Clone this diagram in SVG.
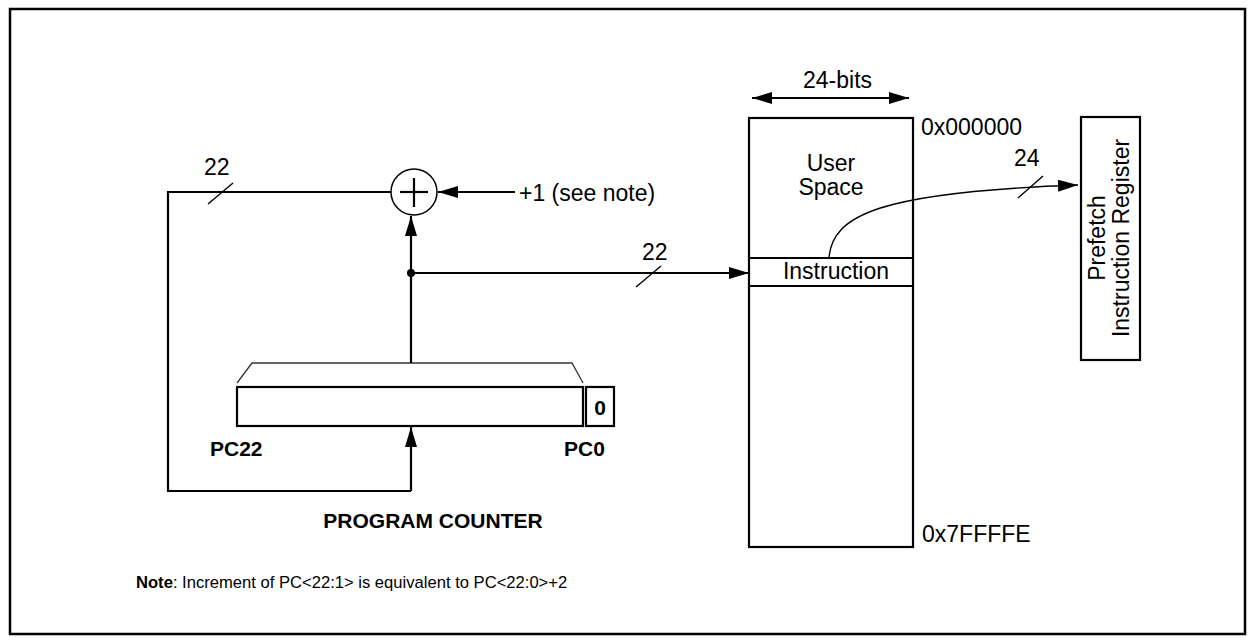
<svg xmlns="http://www.w3.org/2000/svg" width="1254" height="641" viewBox="0 0 1254 641">
<defs>
<style>
.ln{stroke:#000;stroke-width:2.2;fill:none}
.thin{stroke:#000;stroke-width:1.4;fill:none}
.box{stroke:#000;stroke-width:2.2;fill:#fff}
.t{font-family:"Liberation Sans",Arial,sans-serif;font-size:23px;fill:#000}
.b{font-family:"Liberation Sans",Arial,sans-serif;font-size:21px;font-weight:bold;fill:#000}
.n{font-family:"Liberation Sans",Arial,sans-serif;font-size:16.6px;fill:#000}
</style>
<marker id="ah" viewBox="0 0 20 12" refX="20" refY="6" markerWidth="20" markerHeight="12" markerUnits="userSpaceOnUse" orient="auto-start-reverse">
<path d="M0,0 L20,6 L0,12 Z" fill="#000"/>
</marker>
</defs>
<rect x="0" y="0" width="1254" height="641" fill="#fff"/>
<rect x="10" y="9" width="1235" height="625" fill="none" stroke="#000" stroke-width="2.5"/>

<g id="adder">
<circle cx="414" cy="192" r="23" fill="#fff" stroke="#000" stroke-width="1.5"/>
<line class="ln" x1="400" y1="192" x2="428" y2="192"/>
<line class="ln" x1="414" y1="178" x2="414" y2="207"/>
</g>

<g id="program-counter">
<polyline points="237,383 252,363 572,363 583,383" fill="none" stroke="#333" stroke-width="1.3"/>
<rect class="box" x="237" y="387" width="346" height="39"/>
<rect class="box" x="586" y="387" width="28" height="39"/>
<text class="b" x="600" y="415" text-anchor="middle">0</text>
<text class="b" x="210" y="456">PC22</text>
<text class="b" x="564" y="456">PC0</text>
<text class="b" x="433" y="528" text-anchor="middle">PROGRAM COUNTER</text>
</g>

<g id="memory">
<rect class="box" x="749" y="118" width="164" height="429"/>
<line class="ln" x1="749" y1="258" x2="913" y2="258"/>
<line class="ln" x1="749" y1="286" x2="913" y2="286"/>
<text class="t" x="831" y="171" text-anchor="middle">User</text>
<text class="t" x="831" y="195" text-anchor="middle">Space</text>
<text class="t" x="836" y="279" text-anchor="middle">Instruction</text>
<text class="t" x="921" y="135">0x000000</text>
<text class="t" x="922" y="542">0x7FFFFE</text>
</g>

<g id="prefetch">
<rect class="box" x="1081" y="117" width="59" height="243"/>
<text class="t" transform="rotate(-90)" x="-238" y="1105" text-anchor="middle">Prefetch</text>
<text class="t" transform="rotate(-90)" x="-238" y="1129" text-anchor="middle">Instruction Register</text>
</g>

<g id="connectors">
<polyline class="ln" points="411,491 168,491 168,192 391,192"/>
<line class="ln" x1="411" y1="491" x2="411" y2="427" marker-end="url(#ah)"/>
<line class="ln" x1="411" y1="363" x2="411" y2="216" marker-end="url(#ah)"/>
<line class="ln" x1="515" y1="192" x2="438" y2="192" marker-end="url(#ah)"/>
<line class="ln" x1="411" y1="273" x2="749" y2="273" marker-end="url(#ah)"/>
<circle cx="411" cy="273" r="4" fill="#000"/>
<path class="thin" d="M829,258 C832,215 880,192 1078,185" marker-end="url(#ah)"/>
<line class="thin" x1="208" y1="204" x2="233" y2="183"/>
<line class="thin" x1="636" y1="287" x2="661" y2="266"/>
<line class="thin" x1="1018" y1="198" x2="1043" y2="176"/>
<line class="ln" x1="752" y1="98" x2="909" y2="98" marker-start="url(#ah)" marker-end="url(#ah)"/>
</g>

<g id="labels">
<text class="t" x="204" y="175">22</text>
<text class="t" x="519" y="201">+1 (see note)</text>
<text class="t" x="642" y="260">22</text>
<text class="t" x="1014" y="166">24</text>
<text class="t" x="803" y="88">24-bits</text>
</g>

<g id="note">
<text class="n" x="136" y="588"><tspan font-weight="bold">Note</tspan>: Increment of PC&lt;22:1&gt; is equivalent to PC&lt;22:0&gt;+2</text>
</g>
</svg>
